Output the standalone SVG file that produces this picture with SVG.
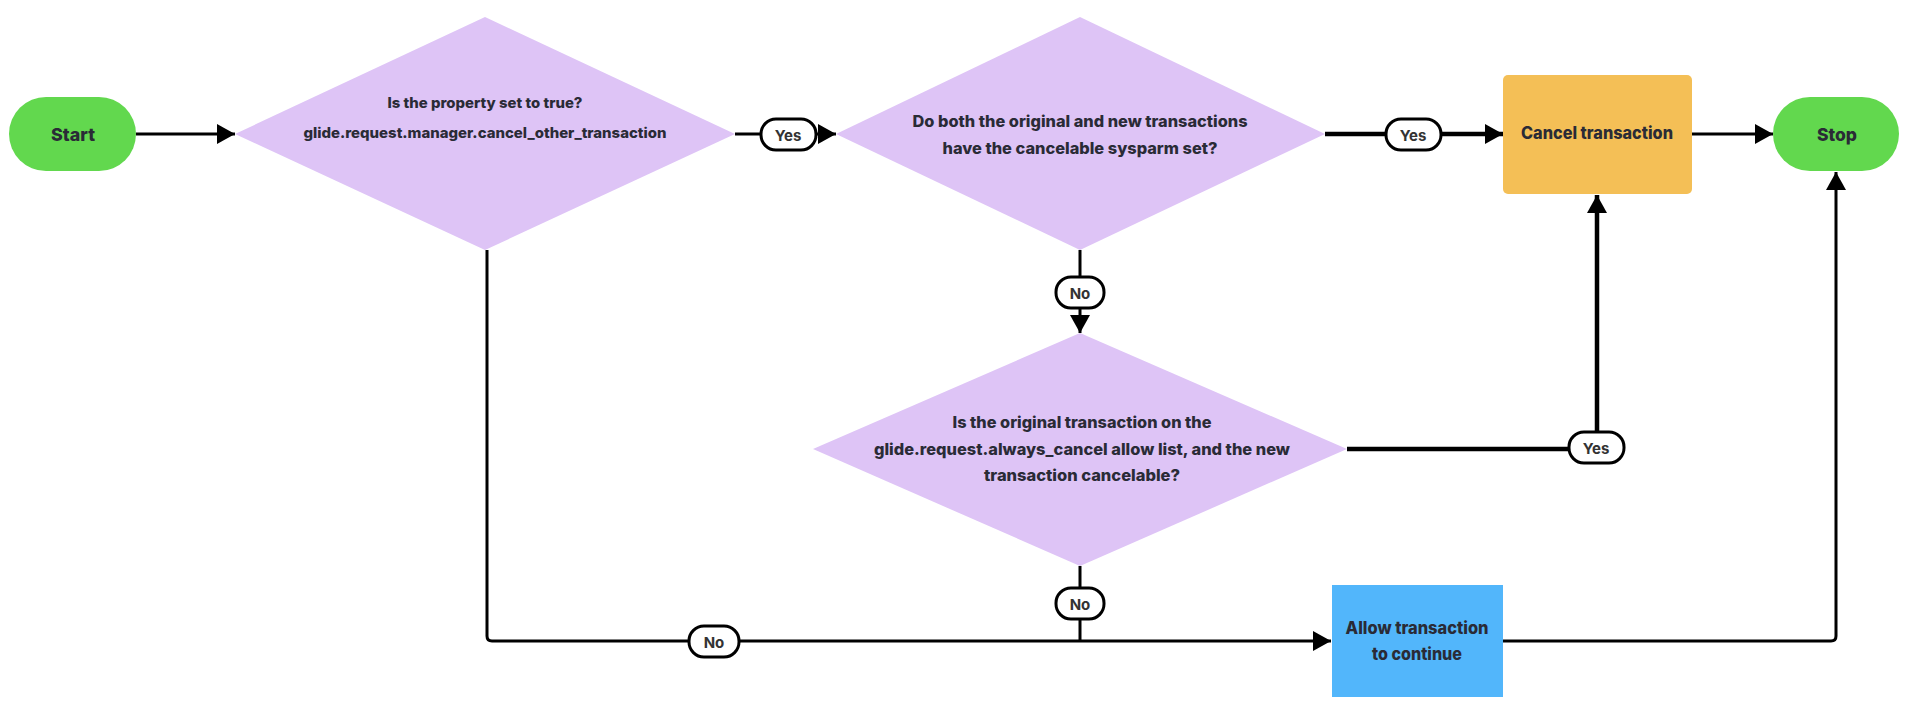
<svg xmlns="http://www.w3.org/2000/svg" width="1920" height="720" viewBox="0 0 1920 720">
<style>
  .t { font-family: Inter, "Noto Sans", "Liberation Sans", sans-serif; font-weight: 800; fill: #2a2b36; text-anchor: middle; dominant-baseline: central; }
  .dia { fill: #dec4f6; }
  .term { fill: #62d84e; }
  .ln { fill: none; stroke: #000; stroke-width: 3; stroke-linejoin: round; }
  .thick { stroke-width: 4.5; }
  .pill { fill: #fff; stroke: #000; stroke-width: 3; }
  .pt { font-family: Inter, "Noto Sans", "Liberation Sans", sans-serif; font-weight: 700; fill: #333; font-size: 15px; text-anchor: middle; dominant-baseline: central; }
</style>
<defs>
  <marker id="arr" viewBox="0 0 18 20" refX="18" refY="10" markerWidth="18" markerHeight="20" markerUnits="userSpaceOnUse" orient="auto">
    <path d="M0,0 L18,10 L0,20 Z" fill="#000"/>
  </marker>
</defs>
<rect width="1920" height="720" fill="#fff"/>

<g id="connectors">
  <path class="ln" d="M136,134 H235" marker-end="url(#arr)"/>
  <path class="ln" d="M735,134 H836" marker-end="url(#arr)"/>
  <path class="ln thick" d="M1325,134 H1503" marker-end="url(#arr)"/>
  <path class="ln" d="M1692,134 H1773" marker-end="url(#arr)"/>
  <path class="ln" d="M1080,250 V333" marker-end="url(#arr)"/>
  <path class="ln thick" d="M1347,449 H1597 V195" marker-end="url(#arr)"/>
  <path class="ln" d="M487,250 V636 Q487,641 492,641 H1331" marker-end="url(#arr)"/>
  <path class="ln" d="M1080,566 V641"/>
  <path class="ln" d="M1503,641 H1831 Q1836,641 1836,636 V172" marker-end="url(#arr)"/>
</g>

<g id="label-yes-1">
  <rect class="pill" x="761" y="119" width="55" height="31" rx="15"/>
  <text class="pt" x="788" y="135">Yes</text>
</g>
<g id="label-yes-2">
  <rect class="pill" x="1386" y="119" width="55" height="31" rx="15"/>
  <text class="pt" x="1413" y="135">Yes</text>
</g>
<g id="label-no-1">
  <rect class="pill" x="1056" y="277" width="48" height="31" rx="15"/>
  <text class="pt" x="1080" y="293">No</text>
</g>
<g id="label-yes-3">
  <rect class="pill" x="1569" y="432" width="55" height="31" rx="15"/>
  <text class="pt" x="1596" y="448">Yes</text>
</g>
<g id="label-no-2">
  <rect class="pill" x="1056" y="588" width="48" height="31" rx="15"/>
  <text class="pt" x="1080" y="604">No</text>
</g>
<g id="label-no-3">
  <rect class="pill" x="689" y="626" width="50" height="31" rx="15"/>
  <text class="pt" x="714" y="642">No</text>
</g>

<g id="start">
  <rect class="term" x="9" y="97" width="127" height="74" rx="37"/>
  <text class="t" x="73" y="134" font-size="18" textLength="44" lengthAdjust="spacingAndGlyphs">Start</text>
</g>

<g id="decision-property">
  <polygon class="dia" points="485,17 735,134 485,250 235,134"/>
  <text class="t" x="485" y="102" font-size="14.5" textLength="195" lengthAdjust="spacingAndGlyphs">Is the property set to true?</text>
  <text class="t" x="485" y="132" font-size="14.5" textLength="363" lengthAdjust="spacingAndGlyphs">glide.request.manager.cancel_other_transaction</text>
</g>

<g id="decision-cancelable">
  <polygon class="dia" points="1080,17 1325,134 1080,250 836,134"/>
  <text class="t" x="1080" y="121" font-size="16" textLength="335" lengthAdjust="spacingAndGlyphs">Do both the original and new transactions</text>
  <text class="t" x="1080" y="148" font-size="16" textLength="275" lengthAdjust="spacingAndGlyphs">have the cancelable sysparm set?</text>
</g>

<g id="decision-always-cancel">
  <polygon class="dia" points="1080,333 1347,449 1080,566 813,449"/>
  <text class="t" x="1082" y="422" font-size="16" textLength="259" lengthAdjust="spacingAndGlyphs">Is the original transaction on the</text>
  <text class="t" x="1082" y="449" font-size="16" textLength="416" lengthAdjust="spacingAndGlyphs">glide.request.always_cancel allow list, and the new</text>
  <text class="t" x="1082" y="475" font-size="16" textLength="196" lengthAdjust="spacingAndGlyphs">transaction cancelable?</text>
</g>

<g id="cancel-transaction">
  <rect x="1503" y="75" width="189" height="119" rx="5" fill="#f4bf56"/>
  <text class="t" x="1597" y="133" font-size="17" textLength="152" lengthAdjust="spacingAndGlyphs">Cancel transaction</text>
</g>

<g id="stop">
  <rect class="term" x="1773" y="97" width="126" height="74" rx="37"/>
  <text class="t" x="1837" y="134" font-size="18" textLength="40" lengthAdjust="spacingAndGlyphs">Stop</text>
</g>

<g id="allow-transaction">
  <rect x="1332" y="585" width="171" height="112" fill="#52b6fb"/>
  <text class="t" x="1417" y="628" font-size="17" textLength="143" lengthAdjust="spacingAndGlyphs">Allow transaction</text>
  <text class="t" x="1417" y="654" font-size="17" textLength="90" lengthAdjust="spacingAndGlyphs">to continue</text>
</g>
</svg>
